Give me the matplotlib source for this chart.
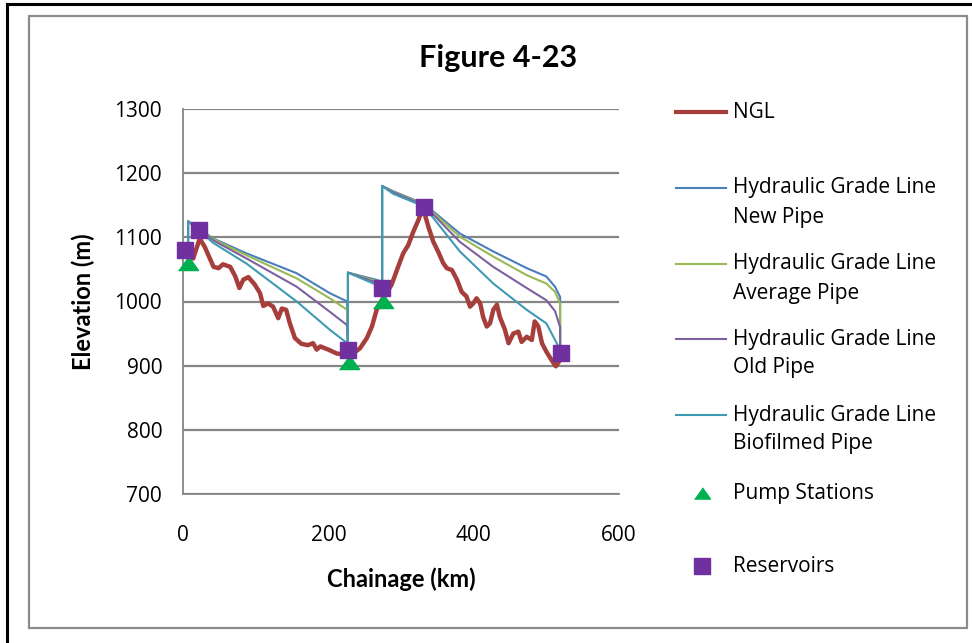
import matplotlib
matplotlib.use("Agg")
import matplotlib.pyplot as plt
from matplotlib.lines import Line2D
from matplotlib.patches import Rectangle

# ---------------- data ----------------
ngl_km = [5, 14, 23, 30, 42, 49, 55, 65, 72, 77.5, 83, 90, 99, 106, 110.5, 117, 124, 131, 136,
          142, 147, 154, 163, 172, 179, 184, 189, 200, 211.5, 223, 234, 243.5, 253, 260, 266.5,
          273.5, 287, 296, 303, 310, 317, 324, 328, 333, 337.5, 344.5, 351, 358, 363, 370, 377,
          383.5, 390, 395, 399.5, 404, 409, 413, 418, 422.5, 427, 432, 436, 443, 448, 454.5,
          461.5, 466, 473, 480, 484, 489, 494, 500, 507, 513, 519]
ngl_elev = [1075, 1067, 1098, 1085, 1054, 1052, 1058, 1054, 1039, 1021, 1034, 1038, 1026, 1013,
            993, 997, 992, 974, 989, 987, 966, 943, 934, 932, 935, 925, 930, 925, 919, 917, 919,
            927, 943, 961, 987, 1002, 1026, 1054, 1075, 1088, 1109, 1127, 1140, 1135, 1117, 1093,
            1078, 1060, 1052, 1049, 1034, 1015, 1008, 992, 997, 1005, 997, 976, 961, 966, 987,
            995, 976, 956, 935, 950, 953, 937, 945, 940, 969, 961, 935, 922, 909, 899, 909]

hgl_km = [7, 7, 42, 87.5, 156.5, 202, 226, 227, 227, 262, 274, 274, 289, 332, 381, 427, 473,
          500, 512, 519, 519]
hgl_new = [1060, 1125, 1098, 1075, 1044, 1013, 1000, 925, 1045, 1035, 1031, 1180, 1172, 1152,
           1106, 1078, 1052, 1039, 1023, 1007, 920]
hgl_avg = [1060, 1125, 1097, 1072, 1036, 1005, 987, 925, 1045, 1033, 1029, 1180, 1171, 1151,
           1101, 1070, 1041, 1028, 1015, 997, 920]
hgl_old = [1060, 1125, 1095, 1067, 1023, 984, 963, 925, 1045, 1031, 1026, 1180, 1170, 1150,
           1093, 1054, 1021, 1002, 985, 960, 920]
hgl_bio = [1060, 1125, 1091, 1059, 1000, 956, 935, 925, 1045, 1028, 1022, 1180, 1168, 1148,
           1078, 1028, 987, 966, 940, 925, 920]

pump_km = [7, 228, 275]
pump_elev = [1060, 906, 1001]
res_km = [3, 22, 227, 274, 331.5, 520]
res_elev = [1081, 1111, 924, 1021, 1148, 920]

x_ticks = [0, 200, 400, 600]
y_ticks = [700, 800, 900, 1000, 1100, 1200, 1300]

legend_labels = [["NGL"],
                 ["Hydraulic Grade Line", "New Pipe"],
                 ["Hydraulic Grade Line", "Average Pipe"],
                 ["Hydraulic Grade Line", "Old Pipe"],
                 ["Hydraulic Grade Line", "Biofilmed Pipe"],
                 ["Pump Stations"],
                 ["Reservoirs"]]

# ---------------- style ----------------
C_NGL = "#A63F3B"
C_NEW = "#4A7EBB"
C_AVG = "#98B954"
C_OLD = "#7D60A0"
C_BIO = "#3F9AB3"
C_PUMP = "#00B050"
C_RES = "#7030A0"
GRID = "#868686"
FONT = "Open Sans"
BOLDFONT = "Lato"

W, H = 972, 643
fig = plt.figure(figsize=(W / 100, H / 100), dpi=100)
plt.rcParams['font.family'] = [FONT, 'DejaVu Sans']


def fx(px):
    return px / W


def fy(py):
    return 1 - py / H


# frame: black top/left line, gray inner rectangle
fig.add_artist(Line2D([fx(7), fx(7)], [fy(4), 0], color="black", lw=2.2, transform=fig.transFigure))
fig.add_artist(Line2D([fx(7), 1], [fy(4), fy(4)], color="black", lw=2.2, transform=fig.transFigure))
fig.add_artist(Rectangle((fx(29), fy(628)), fx(967) - fx(29), fy(16) - fy(628), fill=False,
                         edgecolor="#8C8C8C", lw=1.6, transform=fig.transFigure))

ax = fig.add_axes([fx(183), fy(494), fx(619) - fx(183), fy(109) - fy(494)])
ax.set_xlim(0, 600)
ax.set_ylim(700, 1300)
ax.set_xticks(x_ticks)
ax.set_yticks(y_ticks)
ax.tick_params(length=0, labelsize=15, colors="#000000")
ax.tick_params(axis="x", pad=22)
ax.tick_params(axis="y", pad=15)
for s in ["top", "right"]:
    ax.spines[s].set_visible(False)
for s in ["left", "bottom"]:
    ax.spines[s].set_color(GRID)
    ax.spines[s].set_linewidth(1.3)
ax.yaxis.grid(True, color=GRID, lw=1.6)
ax.set_axisbelow(True)

ax.plot(ngl_km, ngl_elev, color=C_NGL, lw=3.2, solid_joinstyle="round", zorder=3)
ax.plot(hgl_km, hgl_new, color=C_NEW, lw=1.5, zorder=4)
ax.plot(hgl_km, hgl_avg, color=C_AVG, lw=1.5, zorder=4)
ax.plot(hgl_km, hgl_old, color=C_OLD, lw=1.5, zorder=4)
ax.plot(hgl_km, hgl_bio, color=C_BIO, lw=1.5, zorder=4)

tri = [(-1, -0.7), (1, -0.7), (0, 0.7)]
ax.plot(pump_km, pump_elev, linestyle="none", marker=tri, markersize=14.5, color=C_PUMP,
        clip_on=False, zorder=5)
ax.plot(res_km, res_elev, linestyle="none", marker="s", markersize=12, color=C_RES,
        clip_on=False, zorder=6)

ax.set_xlabel("Chainage (km)", fontsize=17, fontweight="bold", family=[BOLDFONT, 'DejaVu Sans'],
              labelpad=16)
ax.set_ylabel("Elevation (m)", fontsize=17, fontweight="bold", family=[BOLDFONT, 'DejaVu Sans'],
              labelpad=14)

fig.text(fx(498), fy(58), "Figure 4-23", fontsize=22, fontweight="bold",
         family=[BOLDFONT, 'DejaVu Sans'], ha="center", va="center")

# manual legend (Excel-style, handle aligned with first text line)
leg_y = [112, 188, 264, 339, 415, 493, 566]
leg_kind = ["line", "line", "line", "line", "line", "tri", "sq"]
leg_col = [C_NGL, C_NEW, C_AVG, C_OLD, C_BIO, C_PUMP, C_RES]
leg_lw = [3.0, 1.5, 1.5, 1.5, 1.5, 0, 0]
for lab, y, kind, col, lw in zip(legend_labels, leg_y, leg_kind, leg_col, leg_lw):
    if kind == "line":
        fig.add_artist(Line2D([fx(676), fx(726)], [fy(y), fy(y)], color=col, lw=lw,
                              transform=fig.transFigure))
    elif kind == "tri":
        fig.add_artist(Line2D([fx(702)], [fy(y)], marker=tri, markersize=11.5, color=col,
                              linestyle="none", transform=fig.transFigure))
    else:
        fig.add_artist(Line2D([fx(702)], [fy(y)], marker="s", markersize=11, color=col,
                              linestyle="none", transform=fig.transFigure))
    for i, line in enumerate(lab):
        fig.text(fx(733), fy(y + i * 29), line, fontsize=15, ha="left", va="center")

fig.savefig("out.png", dpi=100)
